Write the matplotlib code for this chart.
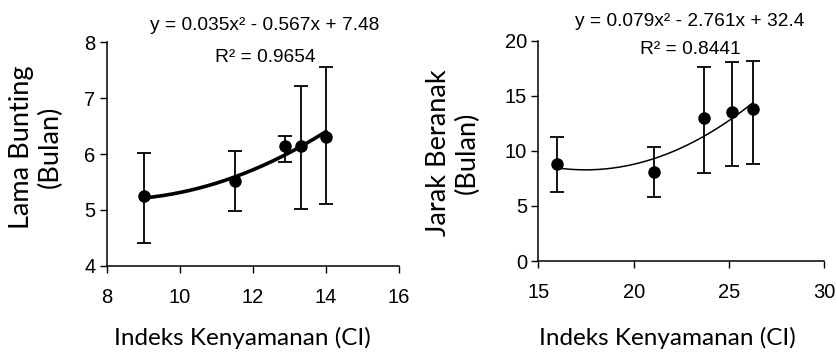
import numpy as np
import matplotlib
matplotlib.use("Agg")
import matplotlib.pyplot as plt

# ---- data: left panel (Lama Bunting) ----
ci_left = [9.03, 11.52, 12.87, 13.33, 14.0]
lama_bunting = [5.24, 5.52, 6.15, 6.14, 6.31]
lb_err_low = [0.84, 0.54, 0.29, 1.13, 1.21]
lb_err_high = [0.77, 0.54, 0.17, 1.08, 1.24]
coef_left = [0.035, -0.567, 7.48]
eq_left = "y = 0.035x² - 0.567x + 7.48"
r2_left = "R² = 0.9654"

# ---- data: right panel (Jarak Beranak) ----
ci_right = [16.0, 21.08, 23.7, 25.14, 26.24]
jarak_beranak = [8.8, 8.1, 12.95, 13.55, 13.8]
jb_err_low = [2.57, 2.27, 4.94, 4.93, 4.97]
jb_err_high = [2.48, 2.27, 4.69, 4.52, 4.38]
coef_right = [0.079, -2.761, 32.4]
eq_right = "y = 0.079x² - 2.761x + 32.4"
r2_right = "R² = 0.8441"

xlabel = "Indeks Kenyamanan (CI)"
ylabel_left = "Lama Bunting\n(Bulan)"
ylabel_right = "Jarak Beranak\n(Bulan)"

tick_font = "Liberation Sans"
tick_size = 14.5
eq_font = "Liberation Sans"
label_font = "Lato"

fig = plt.figure(figsize=(8.36, 3.54), dpi=100)
ax1 = fig.add_axes([0.1276, 0.2494, 0.4773 - 0.1276, 0.8805 - 0.2494])
ax2 = fig.add_axes([0.6439, 0.2627, 0.986 - 0.6439, 0.885 - 0.2627])


def style(ax):
    for s in ("top", "right"):
        ax.spines[s].set_visible(False)
    for s in ("left", "bottom"):
        ax.spines[s].set_linewidth(1.1)
    ax.tick_params(direction="out", length=5, width=1.0, labelsize=tick_size,
                   colors="black")
    ax.tick_params(axis="x", pad=11)
    ax.tick_params(axis="y", pad=3)
    for lab in ax.get_xticklabels() + ax.get_yticklabels():
        lab.set_fontfamily(tick_font)


def panel(ax, x, y, elo, ehi, coef, lw_fit, xlim, ylim, xticks, yticks):
    ax.set_xlim(*xlim)
    ax.set_ylim(*ylim)
    ax.set_xticks(xticks)
    ax.set_yticks(yticks)
    xs = np.linspace(min(x), max(x), 200)
    ax.plot(xs, np.polyval(coef, xs), color="black", lw=lw_fit, zorder=2)
    ax.errorbar(x, y, yerr=[elo, ehi], fmt="o", color="black", ms=8,
                elinewidth=1.3, capsize=4.8, capthick=1.3, zorder=3,
                clip_on=False)
    style(ax)


panel(ax1, ci_left, lama_bunting, lb_err_low, lb_err_high, coef_left, 2.6,
      (8, 16), (4, 8), [8, 10, 12, 14, 16], [4, 5, 6, 7, 8])
panel(ax2, ci_right, jarak_beranak, jb_err_low, jb_err_high, coef_right, 1.1,
      (15, 30), (0, 20), [15, 20, 25, 30], [0, 5, 10, 15, 20])

# equations
eq_size = 13.8
fig.text(265 / 836, 1 - 25 / 354, eq_left, ha="center", va="center",
         fontsize=eq_size, family=eq_font)
fig.text(265 / 836, 1 - 57 / 354, r2_left, ha="center", va="center",
         fontsize=eq_size, family=eq_font)
fig.text(690 / 836, 1 - 22 / 354, eq_right, ha="center", va="center",
         fontsize=eq_size, family=eq_font)
fig.text(690 / 836, 1 - 50 / 354, r2_right, ha="center", va="center",
         fontsize=eq_size, family=eq_font)

# axis labels
fig.text(242 / 836, 1 - 338 / 354, xlabel, ha="center", va="center",
         fontsize=17.5, family=label_font)
fig.text(667 / 836, 1 - 338 / 354, xlabel, ha="center", va="center",
         fontsize=17.5, family=label_font)
fig.text(36 / 836, 1 - 147 / 354, ylabel_left, ha="center", va="center",
         rotation=90, fontsize=19.5, family=label_font, linespacing=1.15,
         multialignment="center")
fig.text(453 / 836, 1 - 153 / 354, ylabel_right, ha="center", va="center",
         rotation=90, fontsize=19.5, family=label_font, linespacing=1.15,
         multialignment="center")

fig.savefig("out.png", dpi=100)
